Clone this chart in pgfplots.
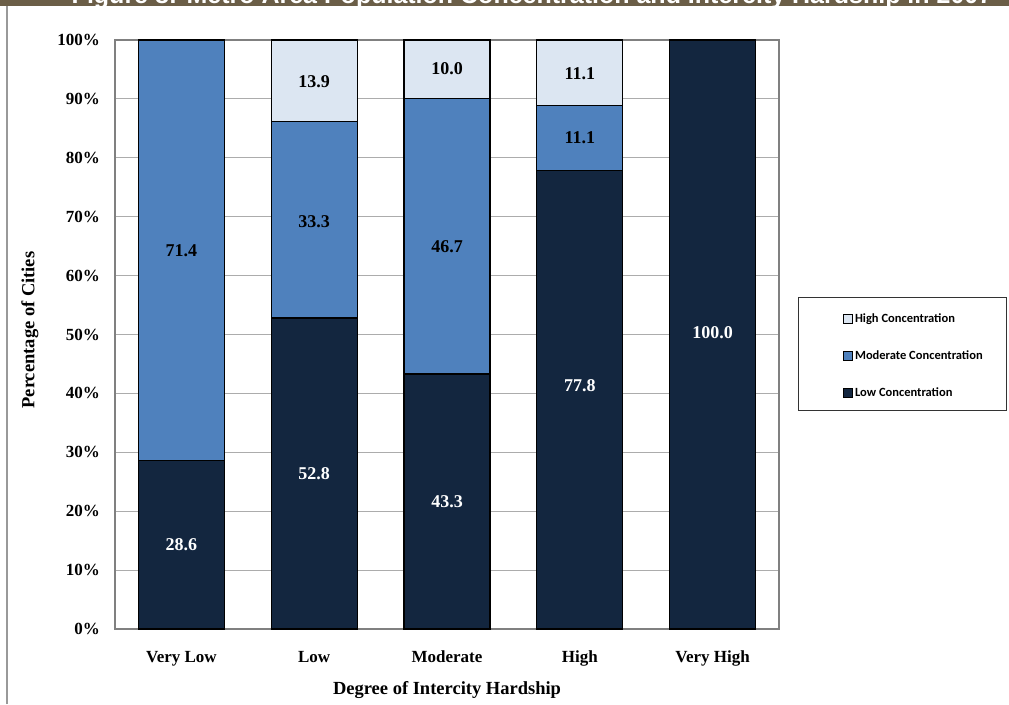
\documentclass[border=0pt]{standalone}
\usepackage{pgfplots}
\pgfplotsset{compat=1.18}
\usepackage{fontspec}
\setmainfont{Liberation Serif}
\newfontfamily\legendfont{Carlito}
\newfontfamily\titlefont{Liberation Sans}
\definecolor{bandc}{HTML}{6B5E47}
\definecolor{lowc}{HTML}{13263F}
\definecolor{modc}{HTML}{4F81BD}
\definecolor{highc}{HTML}{DCE6F2}
\tikzset{lab/.style={font=\bfseries\fontsize{18}{21}\selectfont, inner sep=0pt}}
\begin{document}
\begin{tikzpicture}[x=1pt,y=1pt]
\begin{scope}[shift={(-115pt,-75pt)}]
\path[use as bounding box] (0,0) rectangle (1009,704);
\fill[bandc] (0,698) rectangle (1009,704);
\begin{scope}
\clip (0,698) rectangle (1009,704);
\node[anchor=base, inner sep=0pt, text=white, font=\titlefont\bfseries\fontsize{25}{30}\selectfont] at (532,700) {Figure 8: Metro Area Population Concentration and Intercity Hardship in 2007};
\end{scope}
\draw[gray!80, line width=1.5pt] (7,0) -- (7,698);
\draw[black!80, line width=0.8pt] (798,294) rectangle (1006,407);
\end{scope}
\begin{axis}[
  scale only axis,
  width=664pt, height=589pt,
  ybar stacked, bar width=86pt,
  xmin=-0.5, xmax=4.5, ymin=0, ymax=100,
  xtick={0,1,2,3,4},
  xticklabels={Very Low,Low,Moderate,High,Very High},
  ytick={0,10,...,100},
  yticklabel={\pgfmathprintnumber{\tick}\%},
  /pgf/number format/assume math mode=true,
  major tick length=0pt,
  ymajorgrids,
  grid style={draw=gray!65, line width=0.8pt},
  axis line style={draw=gray, line width=1.5pt},
  tick label style={font=\bfseries\fontsize{17}{20}\selectfont},
  yticklabel style={inner sep=0pt, anchor=east, xshift=-15pt},
  xticklabel style={inner sep=0pt, anchor=north, yshift=-22pt},
  xlabel={Degree of Intercity Hardship},
  ylabel={Percentage of Cities},
  label style={font=\bfseries\fontsize{18.5}{22}\selectfont},
  xlabel style={at={(axis description cs:0.5,-0.1036)}, anchor=center, inner sep=0pt},
  ylabel style={at={(axis description cs:-0.128,0.5076)}, anchor=center, inner sep=0pt},
  legend style={at={(axis description cs:1.0965,0.5398)}, anchor=north west, draw=none, fill=none,
    font=\legendfont\bfseries\fontsize{12.5}{14}\selectfont, row sep=23pt, inner sep=0pt},
  legend cell align=left,
  reverse legend,
  legend image code/.code={\draw[#1, line width=0.8pt] (0pt,-4.5pt) rectangle (9pt,4.5pt);},
]
\addplot[fill=lowc, draw=black, line width=1.2pt] coordinates {(0,28.6) (1,52.8) (2,43.3) (3,77.8) (4,100)};
\addlegendentry{Low Concentration}
\addplot[fill=modc, draw=black, line width=1.2pt] coordinates {(0,71.4) (1,33.3) (2,46.7) (3,11.1) (4,0)};
\addlegendentry{Moderate Concentration}
\addplot[fill=highc, draw=black, line width=1.2pt] coordinates {(0,0) (1,13.9) (2,10.0) (3,11.1) (4,0)};
\addlegendentry{High Concentration}
\end{axis}
\begin{axis}[
  scale only axis,
  width=664pt, height=589pt,
  xmin=-0.5, xmax=4.5, ymin=0, ymax=100,
  axis lines=none,
]
\node[lab, text=white] at (axis cs:0,14.3) {28.6};
\node[lab] at (axis cs:0,64.3) {71.4};
\node[lab, text=white] at (axis cs:1,26.3) {52.8};
\node[lab] at (axis cs:1,69.1) {33.3};
\node[lab] at (axis cs:1,93.0) {13.9};
\node[lab, text=white] at (axis cs:2,21.6) {43.3};
\node[lab] at (axis cs:2,64.9) {46.7};
\node[lab] at (axis cs:2,95.2) {10.0};
\node[lab, text=white] at (axis cs:3,41.4) {77.8};
\node[lab] at (axis cs:3,83.4) {11.1};
\node[lab] at (axis cs:3,94.2) {11.1};
\node[lab, text=white] at (axis cs:4,50.3) {100.0};
\end{axis}
\end{tikzpicture}
\end{document}
